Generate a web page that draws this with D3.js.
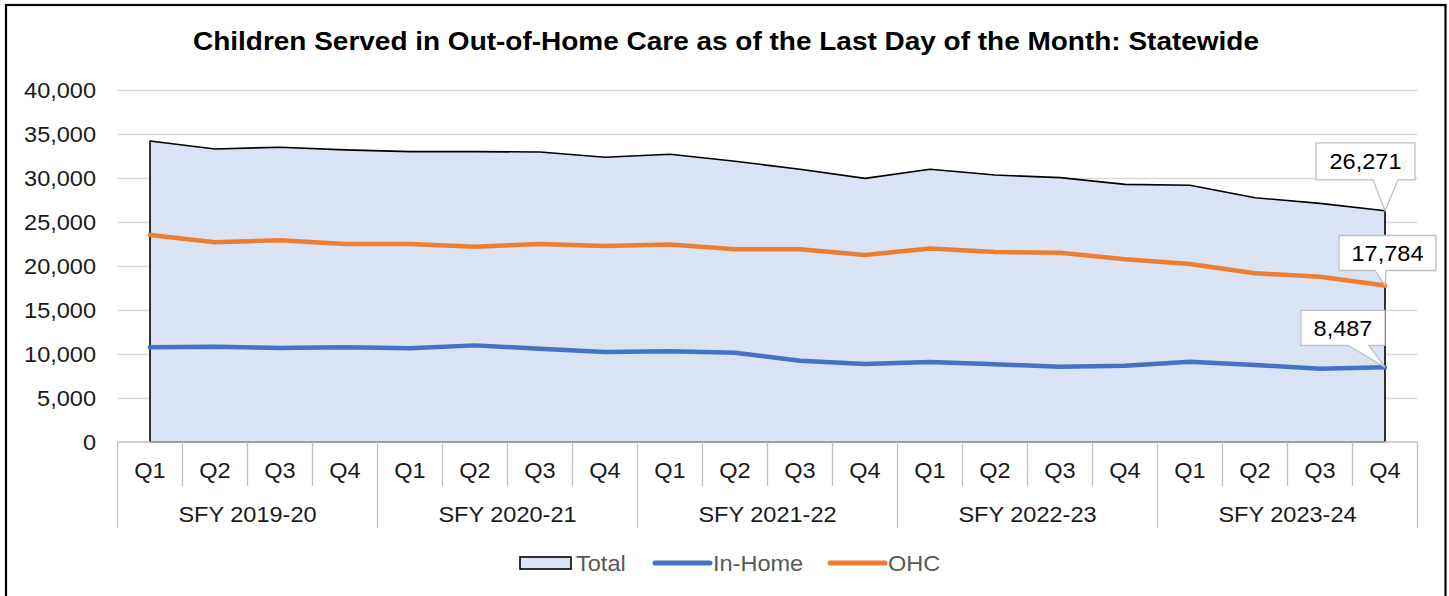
<!DOCTYPE html>
<html>
<head>
<meta charset="utf-8">
<script src="https://cdn.jsdelivr.net/npm/d3@7"></script>
<style>
    body { margin: 0; background: #fff; }
    svg { display: block; font-family: "Liberation Sans", Arial, sans-serif; }
</style>
</head>
<body>
<div id="chart"></div>
<script>
const quarters = ["Q1", "Q2", "Q3", "Q4"];
const fiscalYears = ["SFY 2019-20", "SFY 2020-21", "SFY 2021-22", "SFY 2022-23", "SFY 2023-24"];
const yTicks = [0, 5000, 10000, 15000, 20000, 25000, 30000, 35000, 40000];

const totalValues = [34200, 33300, 33500, 33200, 33000, 33000, 32950, 32350, 32700, 31900,
    31000, 29960, 31000, 30340, 30040, 29280, 29170, 27760, 27120, 26271];
const inHomeValues = [10760, 10830, 10680, 10760, 10640, 10980, 10600, 10230, 10300, 10150,
    9240, 8860, 9090, 8830, 8560, 8670, 9130, 8750, 8330, 8487];
const ohcValues = [23520, 22690, 22920, 22500, 22500, 22200, 22500, 22270, 22430, 21900,
    21900, 21250, 22000, 21600, 21510, 20760, 20230, 19170, 18790, 17784];

const COLORS = {
    totalFill: "#dae3f3",
    inHome: "#4472c4",
    ohc: "#ed7d31",
    grid: "#d9d9d9",
    axis: "#bfbfbf",
    text: "#1a1a1a",
    legend: "#595959",
};

const width = 1449;
const height = 596;
const fontSize = 22;
// the source chart's text is a little wider than plain Arial
const STRETCH = 1.07;

const categories = [];
fiscalYears.forEach((fy) => quarters.forEach((q) => categories.push(`${fy}|${q}`)));

const svg = d3.select("#chart")
    .append("svg")
    .attr("width", width)
    .attr("height", height);

function at(px, py) {
    return `translate(${px},${py}) scale(${STRETCH},1)`;
}

svg.append("rect")
    .attr("x", 6).attr("y", 5)
    .attr("width", 1439.5).attr("height", 620)
    .attr("fill", "none")
    .attr("stroke", "#000")
    .attr("stroke-width", 2.2);

const x = d3.scaleBand().domain(categories).range([117.5, 1417.5]).padding(0);
const y = d3.scaleLinear().domain([0, 40000]).range([442, 90]);
const cx = (i) => x(categories[i]) + x.bandwidth() / 2;

// title
svg.append("text")
    .attr("x", 726)
    .attr("y", 50)
    .attr("text-anchor", "middle")
    .attr("font-weight", "bold")
    .attr("font-size", 25.5)
    .attr("textLength", 1066)
    .attr("lengthAdjust", "spacingAndGlyphs")
    .attr("fill", "#000")
    .text("Children Served in Out-of-Home Care as of the Last Day of the Month: Statewide");

// gridlines
svg.append("g")
    .selectAll("line")
    .data(yTicks.filter((d) => d > 0))
    .enter()
    .append("line")
    .attr("x1", 117.5).attr("x2", 1417.5)
    .attr("y1", (d) => Math.round(y(d)) + 0.5)
    .attr("y2", (d) => Math.round(y(d)) + 0.5)
    .attr("stroke", COLORS.grid)
    .attr("stroke-width", 1.3);

// y labels
svg.append("g")
    .selectAll("text")
    .data(yTicks)
    .enter()
    .append("text")
    .attr("transform", (d) => at(96, y(d)))
    .attr("dy", "0.36em")
    .attr("text-anchor", "end")
    .attr("font-size", fontSize)
    .attr("fill", COLORS.text)
    .text((d) => d3.format(",")(d));

// total area
const area = d3.area()
    .x((d, i) => cx(i))
    .y0(y(0))
    .y1((d) => y(d));

svg.append("path")
    .datum(totalValues)
    .attr("d", (d) => area(d))
    .attr("fill", COLORS.totalFill)
    .attr("stroke", "#000")
    .attr("stroke-width", 1.6)
    .attr("stroke-linejoin", "round");

const line = d3.line()
    .x((d, i) => cx(i))
    .y((d) => y(d));

[[inHomeValues, COLORS.inHome], [ohcValues, COLORS.ohc]].forEach(([vals, color]) => {
    svg.append("path")
        .datum(vals)
        .attr("d", line)
        .attr("fill", "none")
        .attr("stroke", color)
        .attr("stroke-width", 4.5)
        .attr("stroke-linejoin", "round")
        .attr("stroke-linecap", "round");
});

// x axis
const axisG = svg.append("g").attr("stroke", COLORS.axis).attr("stroke-width", 1.3);
axisG.append("line")
    .attr("x1", 117.5).attr("x2", 1417.5)
    .attr("y1", y(0)).attr("y2", y(0));

axisG.selectAll(".qtick")
    .data(categories.concat(["end"]))
    .enter()
    .append("line")
    .attr("x1", (d, i) => x.range()[0] + i * x.bandwidth())
    .attr("x2", (d, i) => x.range()[0] + i * x.bandwidth())
    .attr("y1", y(0))
    .attr("y2", (d, i) => (i % 4 === 0 ? 528 : 486));

svg.append("g")
    .selectAll("text")
    .data(categories)
    .enter()
    .append("text")
    .attr("transform", (d, i) => at(cx(i), 470))
    .attr("dy", "0.36em")
    .attr("text-anchor", "middle")
    .attr("font-size", fontSize)
    .attr("fill", COLORS.text)
    .text((d) => d.split("|")[1]);

svg.append("g")
    .selectAll("text")
    .data(fiscalYears)
    .enter()
    .append("text")
    .attr("transform", (d, i) => at((cx(i * 4) + cx(i * 4 + 3)) / 2, 514))
    .attr("dy", "0.36em")
    .attr("text-anchor", "middle")
    .attr("font-size", fontSize)
    .attr("fill", COLORS.text)
    .text((d) => d);

// callouts at the last point
const last = categories.length - 1;
const callouts = [
    { value: totalValues[last], box: [-69, 30, -68, -31], notch: [-12, 13] },
    { value: ohcValues[last], box: [-46, 51, -50, -15], notch: [-10, 1] },
    { value: inHomeValues[last], box: [-84, 0, -57, -22], notch: [-37, -16] },
];

callouts.forEach((c) => {
    const px = cx(last);
    const py = y(c.value);
    const [l, r, t, b] = c.box;
    const path = d3.path();
    path.moveTo(px + l, py + t);
    path.lineTo(px + r, py + t);
    path.lineTo(px + r, py + b);
    path.lineTo(px + c.notch[1], py + b);
    path.lineTo(px, py);
    path.lineTo(px + c.notch[0], py + b);
    path.lineTo(px + l, py + b);
    path.closePath();

    svg.append("path")
        .attr("d", path.toString())
        .attr("fill", "#fff")
        .attr("stroke", "#bfbfbf")
        .attr("stroke-width", 1.3);

    svg.append("text")
        .attr("transform", at(px + (l + r) / 2, py + (t + b) / 2))
        .attr("dy", "0.36em")
        .attr("text-anchor", "middle")
        .attr("font-size", fontSize)
        .attr("fill", "#000")
        .text(d3.format(",")(c.value));
});

// legend
const legend = svg.append("g").attr("font-size", fontSize).attr("fill", COLORS.legend);
legend.append("rect")
    .attr("x", 520).attr("y", 557)
    .attr("width", 51).attr("height", 12)
    .attr("fill", COLORS.totalFill)
    .attr("stroke", "#000")
    .attr("stroke-width", 1.6);
legend.append("text").attr("transform", at(576, 563)).attr("dy", "0.36em").text("Total");

[["In-Home", COLORS.inHome, 655], ["OHC", COLORS.ohc, 830]].forEach(([name, color, lx]) => {
    legend.append("line")
        .attr("x1", lx).attr("x2", lx + 55)
        .attr("y1", 563).attr("y2", 563)
        .attr("stroke", color)
        .attr("stroke-width", 5)
        .attr("stroke-linecap", "round");
    legend.append("text").attr("transform", at(lx + 58, 563)).attr("dy", "0.36em").text(name);
});
</script>
</body>
</html>
